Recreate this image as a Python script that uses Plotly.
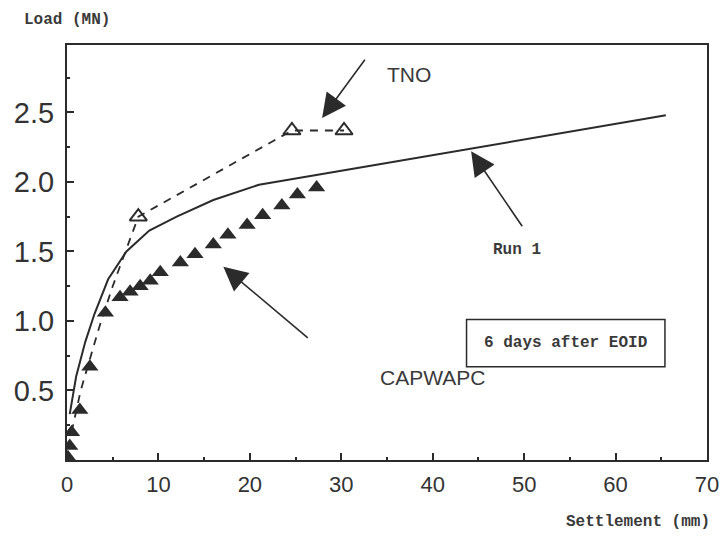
import plotly.graph_objects as go

# ---- data ----
run1_x = [0.3, 1.0, 2.0, 3.0, 4.5, 6.5, 9.0, 12.0, 16.0, 21.0, 30.0, 45.0, 65.5]
run1_y = [0.33, 0.60, 0.85, 1.05, 1.30, 1.50, 1.65, 1.75, 1.87, 1.98, 2.08, 2.25, 2.48]

tno_line_x = [0.5, 1.5, 3.5, 5.0, 7.8, 24.6, 30.3]
tno_line_y = [0.20, 0.50, 0.95, 1.25, 1.75, 2.37, 2.37]
tno_x = [7.8, 24.6, 30.3]
tno_y = [1.75, 2.37, 2.37]

cap_x = [0.1, 0.3, 0.5, 1.4, 2.5, 4.2, 5.8, 6.9, 8.0, 9.1, 10.2, 12.4, 14.0,
         16.0, 17.6, 19.7, 21.4, 23.5, 25.2, 27.3]
cap_y = [0.02, 0.10, 0.20, 0.36, 0.67, 1.06, 1.17, 1.21, 1.25, 1.29, 1.35, 1.42,
         1.48, 1.55, 1.62, 1.69, 1.76, 1.83, 1.91, 1.96]

x_ticks = [0, 10, 20, 30, 40, 50, 60, 70]
y_ticks = [0.5, 1.0, 1.5, 2.0, 2.5]
y_tick_text = ["0.5", "1.0", "1.5", "2.0", "2.5"]

ink = "#2b2b2b"

fig = go.Figure()
fig.add_trace(go.Scatter(x=run1_x, y=run1_y, mode="lines",
                         line=dict(color=ink, width=2), showlegend=False))
fig.add_trace(go.Scatter(x=tno_line_x, y=tno_line_y, mode="lines",
                         line=dict(color=ink, width=1.8, dash="8px,7px"), showlegend=False))
fig.add_trace(go.Scatter(x=tno_x, y=tno_y, mode="markers",
                         marker=dict(symbol="triangle-up-open", size=15, color=ink,
                                     line=dict(width=2, color=ink)), showlegend=False))
fig.add_trace(go.Scatter(x=cap_x, y=cap_y, mode="markers",
                         marker=dict(symbol="triangle-up", size=15, color=ink), showlegend=False))

mono = "Liberation Mono"
sans = "Liberation Sans"

ann = []
# arrows
for (hx, hy, tx, ty) in [(27.9, 2.46, 32.7, 2.89),
                          (44.2, 2.22, 49.9, 1.67),
                          (17.1, 1.39, 26.5, 0.87)]:
    ann.append(dict(x=hx, y=hy, ax=tx, ay=ty, xref="x", yref="y", axref="x", ayref="y",
                    text="", showarrow=True, arrowhead=2, arrowsize=3, arrowwidth=1.6,
                    arrowcolor=ink))
ann += [
    dict(x=37.4, y=2.77, xref="x", yref="y", text="TNO", showarrow=False,
         font=dict(family=sans, size=21, color="#3a3a3a")),
    dict(x=40.0, y=0.59, xref="x", yref="y", text="CAPWAPC", showarrow=False,
         font=dict(family=sans, size=21, color="#3a3a3a")),
    dict(x=49.2, y=1.51, xref="x", yref="y", text="<b>Run 1</b>", showarrow=False,
         font=dict(family=mono, size=16, color="#3a3a3a")),
    dict(x=-0.07, y=1.06, xref="paper", yref="paper", xanchor="left", yanchor="middle",
         text="<b>Load (MN)</b>", showarrow=False,
         font=dict(family=mono, size=16, color="#3a3a3a")),
    dict(x=1.008, y=-0.15, xref="paper", yref="paper", xanchor="right", yanchor="middle",
         text="<b>Settlement (mm)</b>", showarrow=False,
         font=dict(family=mono, size=16, color="#3a3a3a")),
    dict(x=54.55, y=0.84, xref="x", yref="y", text="<b>6 days after EOID</b>", showarrow=False,
         font=dict(family=mono, size=16, color="#3a3a3a")),
]

fig.add_shape(type="rect", x0=43.7, x1=65.4, y0=0.67, y1=1.01, xref="x", yref="y",
              line=dict(color=ink, width=1.5), fillcolor="rgba(0,0,0,0)")

fig.update_layout(
    width=722, height=538,
    margin=dict(l=67, r=15, t=45, b=78, autoexpand=False),
    paper_bgcolor="white", plot_bgcolor="white",
    annotations=ann,
    xaxis=dict(range=[0, 70], tickvals=x_ticks, ticks="inside", ticklen=7, tickwidth=1.5,
               tickcolor=ink, showline=True, mirror=True, linecolor=ink, linewidth=2,
               showgrid=False, zeroline=False, automargin=False,
               tickfont=dict(family=sans, size=22, color="#333"),
               ticklabelstandoff=4,
               minor=dict(tickvals=[5, 15, 25, 35, 45, 55, 65], ticks="inside", ticklen=3,
                          tickcolor=ink, showgrid=False)),
    yaxis=dict(range=[0, 2.985], tickvals=y_ticks, ticktext=y_tick_text, ticks="inside",
               ticklen=7, tickwidth=1.5, tickcolor=ink, showline=True, mirror=True,
               linecolor=ink, linewidth=2, showgrid=False, zeroline=False, automargin=False,
               tickfont=dict(family=sans, size=29, color="#333"),
               ticklabelstandoff=5,
               minor=dict(tickvals=[0.25, 0.75, 1.25, 1.75, 2.25, 2.75], ticks="inside",
                          ticklen=3, tickcolor=ink, showgrid=False)),
)

fig.write_html("out.html", config={"displayModeBar": False},
               post_script="document.body.style.margin='0';document.body.style.overflow='hidden';")
